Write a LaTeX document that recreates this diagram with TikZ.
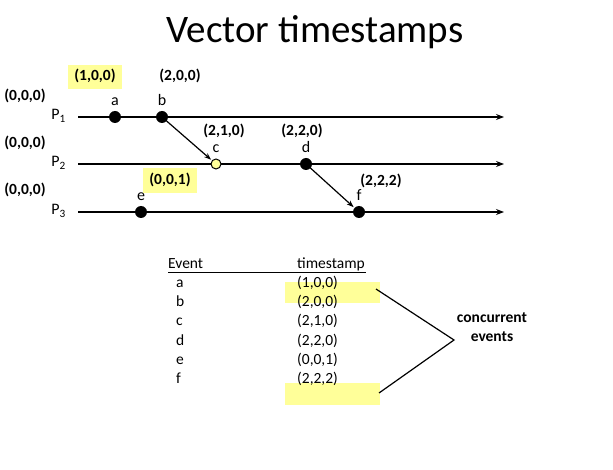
\documentclass[tikz,border=0pt]{standalone}
\usepackage{fontspec}
\setmainfont{Carlito}
\usetikzlibrary{arrows.meta}
\definecolor{hl}{RGB}{255,255,153}
\begin{document}
\begin{tikzpicture}[x=1pt,y=-1pt,
  ts/.style={font=\fontsize{15.5}{17}\selectfont\bfseries,inner sep=1pt},
  lbl/.style={font=\fontsize{16}{18}\selectfont,inner sep=1pt},
  tab/.style={font=\fontsize{15.5}{17}\selectfont,inner sep=0pt,anchor=base west},
  ev/.style={circle,fill=black,minimum size=12pt,inner sep=0pt},
  tl/.style={line width=1.2pt,-{Stealth[length=8pt,width=6pt]}},
  msg/.style={line width=1.2pt,-{Stealth[length=7pt,width=5pt]},shorten >=1pt},
  hlbox/.style={fill=hl,draw=none}]
\useasboundingbox (0,0) rectangle (613,470);
\node[font=\fontsize{39}{43}\selectfont] (title) at (315,32) {Vector timestamps};
% process lines
\coordinate (s1) at (78,117); \coordinate (e1) at (504,117);
\coordinate (s2) at (78,164); \coordinate (e2) at (504,164);
\coordinate (s3) at (78,212); \coordinate (e3) at (504,212);
\draw[tl] (s1) -- (e1);
\draw[tl] (s2) -- (e2);
\draw[tl] (s3) -- (e3);
\node[lbl,anchor=east] (p1) at (67,116) {P\textsubscript{1}};
\node[lbl,anchor=east] (p2) at (67,163) {P\textsubscript{2}};
\node[lbl,anchor=east] (p3) at (67,211) {P\textsubscript{3}};
\node[ts] (z1) at (25,96) {(0,0,0)};
\node[ts] (z2) at (25,143) {(0,0,0)};
\node[ts] (z3) at (25,190) {(0,0,0)};
% events
\node[ev] (a) at (115,117) {};
\node[ev] (b) at (162,117) {};
\node[circle,fill=hl,draw=black,line width=1pt,minimum size=10pt,inner sep=0pt] (c) at (216,164) {};
\node[ev] (d) at (306,164) {};
\node[ev] (e) at (141,212) {};
\node[ev] (f) at (359,212) {};
\node[lbl,anchor=base] (la) at (115,106) {a};
\node[lbl,anchor=base] (lb) at (162,106) {b};
\node[lbl,anchor=base] (lc) at (216,153) {c};
\node[lbl,anchor=base] (ld) at (306,153) {d};
\node[lbl,anchor=base] (le) at (141,201) {e};
\node[lbl,anchor=base] (lf) at (359,201) {f};
\draw[msg] (b.center) -- (c);
\draw[msg] (d.center) -- (f);
% timestamps
\fill[hl] (68,65) rectangle (122,89);
\node[ts] (ta) at (95,76) {(1,0,0)};
\node[ts] (tb) at (180,76) {(2,0,0)};
\node[ts] (tc) at (224,131) {(2,1,0)};
\node[ts] (td) at (302,131) {(2,2,0)};
\node[ts] (tf) at (381,181) {(2,2,2)};
\fill[hl] (143,168) rectangle (197,193);
\node[ts] (te) at (170,180) {(0,0,1)};
% table
\fill[hl] (285,282) rectangle (380,303);
\fill[hl] (285,383) rectangle (380,405);
\node[tab] (hev) at (168,269) {Event};
\node[tab] (hts) at (297,269) {timestamp};
\coordinate (u1) at (168,272); \coordinate (u2) at (366,272);
\draw[line width=0.8pt] (u1) -- (u2);
\foreach \n/\t [count=\i from 0] in {a/{(1,0,0)},b/{(2,0,0)},c/{(2,1,0)},d/{(2,2,0)},e/{(0,0,1)},f/{(2,2,2)}}{
  \node[tab] (r\n) at (176,288+19*\i) {\n};
  \node[tab] (t\n) at (297,288+19*\i) {\t};
}
\coordinate (h1) at (376,289);
\coordinate (h2) at (379,393);
\coordinate (tip) at (454,340);
\draw[line width=1.2pt] (h1) -- (tip) -- (h2);
\node[ts,align=center,font=\fontsize{15.5}{19}\selectfont\bfseries] (conc) at (492,327) {concurrent\\events};
\end{tikzpicture}
\end{document}
